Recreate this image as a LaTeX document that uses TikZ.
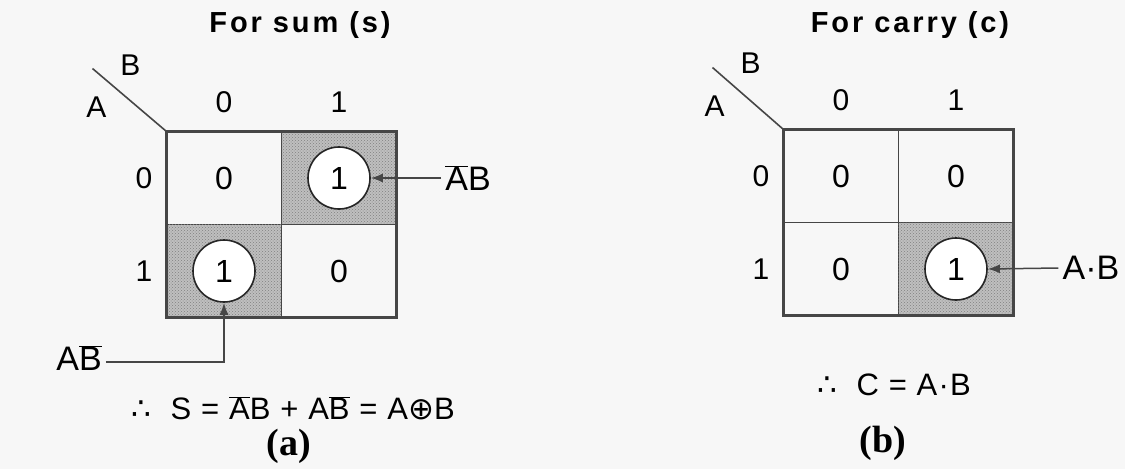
\documentclass[tikz,border=0pt]{standalone}
\usepackage{fontspec}
\setmainfont{Liberation Sans}
\newfontfamily\serifbf{Liberation Serif}
\newfontfamily\symfont{DejaVu Sans}
\usetikzlibrary{arrows.meta, positioning, patterns, calc}
\definecolor{kmapgray}{RGB}{70,70,70}
\newcommand{\nbar}[1]{$\overline{\mbox{#1}}$}

\begin{document}
\begin{tikzpicture}[x=1pt, y=-1pt,
  node distance=0pt,
  cell/.style={rectangle, draw=kmapgray, line width=1.8pt, minimum width=115pt, minimum height=93pt, inner sep=0pt, outer sep=0pt, font=\fontsize{32}{32}\selectfont},
  shaded/.style={cell, fill=black!25, postaction={pattern=crosshatch dots, pattern color=black!50}},
  one/.style={circle, draw=black!85, fill=white, line width=1.6pt, minimum size=62pt, inner sep=0pt, font=\fontsize{32}{32}\selectfont},
  frame/.style={draw=kmapgray, line width=3.5pt},
  diag/.style={draw=kmapgray, line width=1.6pt},
  lab/.style={font=\fontsize{30}{30}\selectfont, inner sep=0pt},
  term/.style={font=\fontsize{34}{34}\selectfont, inner sep=4pt},
  title/.style={font=\fontsize{29}{29}\selectfont\bfseries\addfontfeatures{LetterSpace=10}},
  eqn/.style={font=\fontsize{31}{31}\selectfont\addfontfeatures{LetterSpace=4}, inner sep=0pt},
  tag/.style={font=\fontsize{38}{38}\serifbf\bfseries, inner sep=0pt},
  arrow/.style={-{Latex[length=12pt, width=9pt]}, line width=1.5pt, kmapgray}
]
  \fill[black!3] (0,0) rectangle (1125,469);
  \useasboundingbox (0,0) rectangle (1125,469);

  % Map for the sum
  \node[title] (stitle) at (300,25) {For sum (s)};
  \node[cell] (s00) at (224,178) {0};
  \node[shaded, right=of s00] (s01) {};
  \node[shaded, below=of s00] (s10) {};
  \node[cell, right=of s10] (s11) {0};
  \node[one] (s01one) at (s01) {1};
  \node[one] (s10one) at (s10) {1};
  \draw[frame] (s00.north west) rectangle (s11.south east);

  % Variable labels
  \draw[diag] (s00.north west) -- ++(-74,-63);
  \node[lab] (sB) at ($(s00.north west)+(-36,-66)$) {B};
  \node[lab] (sA) at ($(s00.north west)+(-70,-24)$) {A};
  \node[lab, above=19pt of s00] (scol0) {0};
  \node[lab, above=19pt of s01] (scol1) {1};
  \node[lab, left=14pt of s00] (srow0) {0};
  \node[lab, left=14pt of s10] (srow1) {1};

  % Terms
  \node[term] (sabar) at (468,178) {\nbar{A}B};
  \draw[arrow] (sabar.west |- s01one) -- (s01one.east);
  \node[term] (sbbar) at (79,358) {A\nbar{B}};
  \draw[arrow] (sbbar.east |- 0,362) -| (s10one.south);

  \node[eqn] (seq) at (293,408) {{\symfont ∴}\ \ S = \nbar{A}B + A\nbar{B} = A{\symfont ⊕}B};
  \node[tag] (sa) at (289,446) {(a)};

  % Map for the carry
  \node[title] (ctitle) at (910,25) {For carry (c)};
  \node[cell] (c00) at (841,176) {0};
  \node[cell, right=of c00] (c01) {0};
  \node[cell, below=of c00] (c10) {0};
  \node[shaded, right=of c10] (c11) {};
  \node[one] (c11one) at (c11) {1};
  \draw[frame] (c00.north west) rectangle (c11.south east);

  % Variable labels
  \draw[diag] (c00.north west) -- ++(-71,-62);
  \node[lab] (cB) at ($(c00.north west)+(-33,-66)$) {B};
  \node[lab] (cA) at ($(c00.north west)+(-69,-23)$) {A};
  \node[lab, above=19pt of c00] (ccol0) {0};
  \node[lab, above=19pt of c01] (ccol1) {1};
  \node[lab, left=14pt of c00] (crow0) {0};
  \node[lab, left=14pt of c10] (crow1) {1};

  % Terms
  \node[term] (cab) at (1091,268) {A·B};
  \draw[arrow] (cab.west) -- (c11one.east);

  \node[eqn] (ceq) at (894,385) {{\symfont ∴}\ \ C = A·B};
  \node[tag] (cb) at (883,443) {(b)};
\end{tikzpicture}
\end{document}
